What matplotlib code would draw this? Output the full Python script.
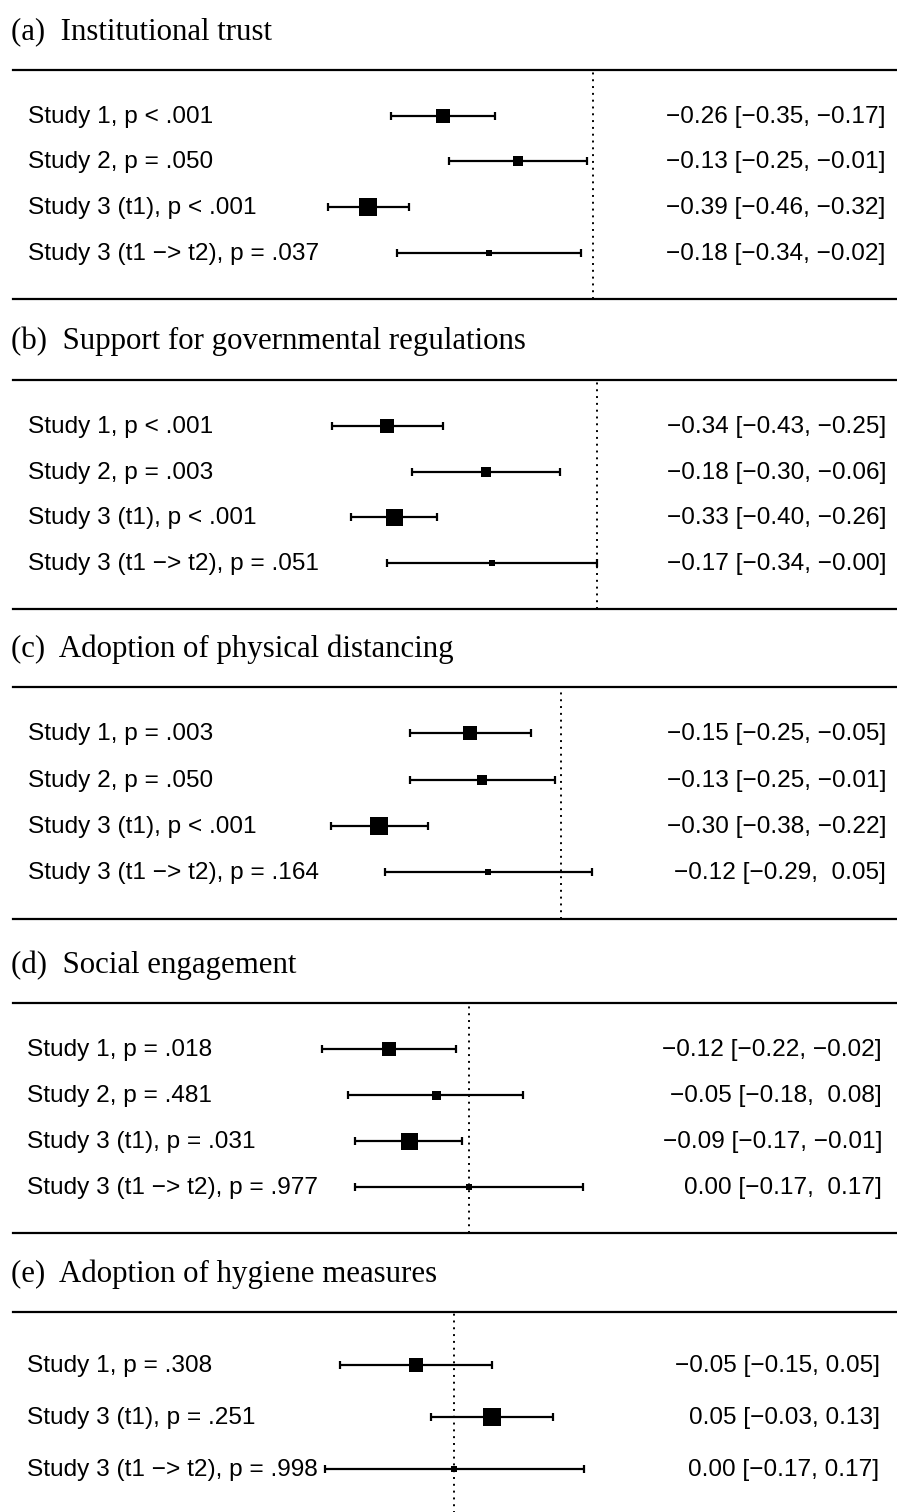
import matplotlib
matplotlib.use("Agg")
import matplotlib.pyplot as plt
from matplotlib import transforms as mtrans

W, H, DPI = 897, 1512, 100
MINUS = "\u2212"

# ---------------- data ----------------
titles = [
    "(a)  Institutional trust",
    "(b)  Support for governmental regulations",
    "(c)  Adoption of physical distancing",
    "(d)  Social engagement",
    "(e)  Adoption of hygiene measures",
]

studies_4 = ["Study 1", "Study 2", "Study 3 (t1)", "Study 3 (t1 " + MINUS + "> t2)"]
studies_3 = ["Study 1", "Study 3 (t1)", "Study 3 (t1 " + MINUS + "> t2)"]

p_a = ["< .001", "= .050", "< .001", "= .037"]
est_a = [-0.26, -0.13, -0.39, -0.18]
lb_a = [-0.35, -0.25, -0.46, -0.34]
ub_a = [-0.17, -0.01, -0.32, -0.02]

p_b = ["< .001", "= .003", "< .001", "= .051"]
est_b = [-0.34, -0.18, -0.33, -0.17]
lb_b = [-0.43, -0.30, -0.40, -0.34]
ub_b = [-0.25, -0.06, -0.26, -0.00]

p_c = ["= .003", "= .050", "< .001", "= .164"]
est_c = [-0.15, -0.13, -0.30, -0.12]
lb_c = [-0.25, -0.25, -0.38, -0.29]
ub_c = [-0.05, -0.01, -0.22, 0.05]

p_d = ["= .018", "= .481", "= .031", "= .977"]
est_d = [-0.12, -0.05, -0.09, 0.00]
lb_d = [-0.22, -0.18, -0.17, -0.17]
ub_d = [-0.02, 0.08, -0.01, 0.17]

p_e = ["= .308", "= .251", "= .998"]
est_e = [-0.05, 0.05, 0.00]
lb_e = [-0.15, -0.03, -0.17]
ub_e = [0.05, 0.13, 0.17]

panels_data = [
    (studies_4, p_a, est_a, lb_a, ub_a),
    (studies_4, p_b, est_b, lb_b, ub_b),
    (studies_4, p_c, est_c, lb_c, ub_c),
    (studies_4, p_d, est_d, lb_d, ub_d),
    (studies_3, p_e, est_e, lb_e, ub_e),
]

# ---------------- layout / style (pixels) ----------------
top_px = [69.7, 379.7, 687.0, 1003.0, 1312.3]
row_px = [45.8, 45.9, 46.3, 46.0, 52.35]
zero_px = [592.5, 596.5, 561.3, 469.0, 454.3]
px_per_unit = [575, 615, 607, 670, 762]
label_x_px = [28, 28, 28, 27, 27]
annot_right_px = [885.5, 886, 886, 882, 879.5]
box_px = [
    [14.7, 10.7, 17.3, 5.2],
    [14.7, 10.3, 17.0, 5.8],
    [14.7, 10.7, 17.3, 6.0],
    [13.7, 9.0, 17.0, 5.2],
    [13.7, 18.3, 5.5],
]
draw_bottom = [True, True, True, True, False]

LABEL_FONT = "Liberation Sans"
TITLE_FONT = "Liberation Serif"
LABEL_SIZE = 17.6
TITLE_SIZE = 22.2
PT_PER_PX = 72.0 / DPI


def fmt(v):
    return f"{v:.2f}".replace("-", MINUS)


fig = plt.figure(figsize=(W / DPI, H / DPI), dpi=DPI)
fig.patch.set_facecolor("white")

for i, (studies, pv, est, lb, ub) in enumerate(panels_data):
    k = len(studies)
    s = row_px[i]
    top = top_px[i]
    height = (k + 1) * s
    ax = fig.add_axes([0, 1 - (top + height) / H, 1, height / H])
    z, ppu = zero_px[i], px_per_unit[i]
    ax.set_xlim(-z / ppu, (W - z) / ppu)
    ax.set_ylim(0, k + 1)
    ax.axis("off")

    # rules
    ax.axhline(k + 1, xmin=13 / W, xmax=1, color="black", lw=1.6, clip_on=False)
    if draw_bottom[i]:
        ax.axhline(0, xmin=13 / W, xmax=1, color="black", lw=1.6, clip_on=False)
    # reference line at zero
    ax.axvline(0, color="black", lw=1.4, ls=(0, (1, 2.5)))

    ys = [k - j for j in range(k)]
    xerr = [[e - l for e, l in zip(est, lb)], [u - e for e, u in zip(est, ub)]]
    ax.errorbar(est, ys, xerr=xerr, fmt="none", ecolor="black",
                elinewidth=1.6, capsize=2.6, capthick=1.6, zorder=2)
    for x, y, bp in zip(est, ys, box_px[i]):
        ax.plot([x], [y], marker="s", color="black", markersize=bp * PT_PER_PX,
                markeredgewidth=0, linestyle="none", zorder=3)

    base = mtrans.blended_transform_factory(ax.transAxes, ax.transData)
    ttrans = mtrans.offset_copy(base, fig=fig, x=0, y=-7.0, units="dots")

    any_neg_ub = any(f"{u:.2f}".startswith("-") for u in ub)
    for j in range(k):
        label = f"{studies[j]}, p {pv[j]}"
        ax.text(label_x_px[i] / W, ys[j], label, transform=ttrans,
                ha="left", va="baseline", fontsize=LABEL_SIZE,
                family=LABEL_FONT, color="black")
        ub_s = fmt(ub[j])
        if any_neg_ub and not ub_s.startswith(MINUS):
            ub_s = " " + ub_s
        annot = f"{fmt(est[j])} [{fmt(lb[j])}, {ub_s}]"
        ax.text(annot_right_px[i] / W, ys[j], annot, transform=ttrans,
                ha="right", va="baseline", fontsize=LABEL_SIZE,
                family=LABEL_FONT, color="black")

    # panel title
    fig.text(11 / W, 1 - (top - 30.4) / H, titles[i], ha="left", va="baseline",
             fontsize=TITLE_SIZE, family=TITLE_FONT, color="black")

fig.savefig("out.png", dpi=DPI, facecolor="white")
